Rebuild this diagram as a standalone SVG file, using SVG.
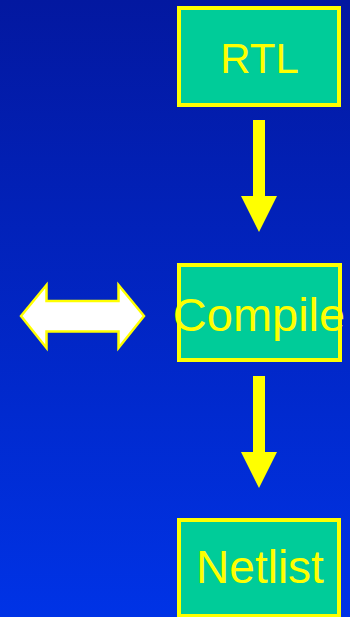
<svg xmlns="http://www.w3.org/2000/svg" width="350" height="617" viewBox="0 0 350 617">
  <defs>
    <linearGradient id="bg" x1="0" y1="0" x2="0" y2="1">
      <stop offset="0" stop-color="#0318a0"/>
      <stop offset="1" stop-color="#0033e6"/>
    </linearGradient>
  </defs>
  <style>
    .box { fill: #00cc99; stroke: #ffff00; stroke-width: 4; }
    .label { fill: #ffff00; font-family: "Liberation Sans", Arial, sans-serif; text-anchor: middle; }
    .flow { fill: #ffff00; stroke: none; }
    .swap { fill: #ffffff; stroke: #ffff00; stroke-width: 2.5; stroke-linejoin: miter; }
  </style>
  <rect width="350" height="617" fill="url(#bg)"/>

  <g id="rtl">
    <rect class="box" x="179" y="8" width="160" height="97"/>
    <text class="label" x="259.5" y="73" font-size="42">RTL</text>
  </g>

  <g id="compile">
    <rect class="box" x="179" y="265" width="161" height="95"/>
    <text class="label" x="259" y="331" font-size="47">Compile</text>
  </g>

  <g id="netlist">
    <rect class="box" x="179" y="520" width="160" height="96"/>
    <text class="label" x="260" y="583" font-size="46">Netlist</text>
  </g>

  <g id="exchange">
    <polygon class="swap" points="21,316 46.5,285 46.5,301 118.5,301 118.5,285 144,316 118.5,348 118.5,331.5 46.5,331.5 46.5,348"/>
  </g>

  <g id="connectors">
    <polygon class="flow" points="253,120 265,120 265,196 277,196 259,232 241,196 253,196"/>
    <polygon class="flow" points="253,376 265,376 265,452 277,452 259,488 241,452 253,452"/>
  </g>
</svg>
